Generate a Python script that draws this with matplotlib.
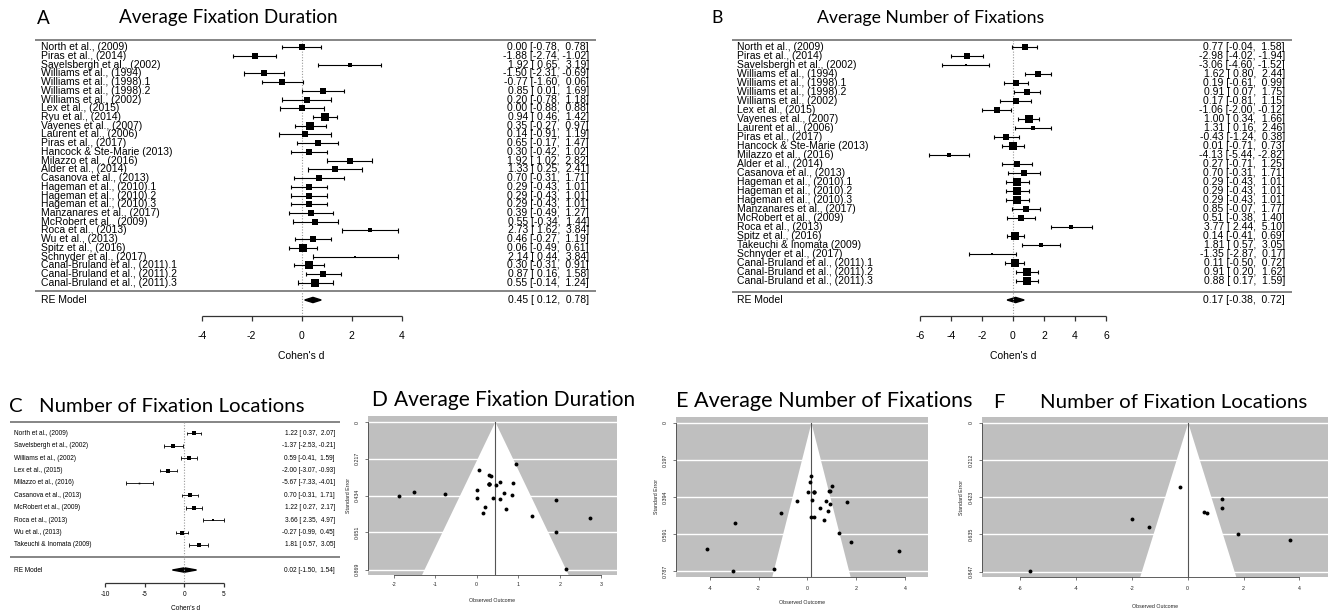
import numpy as np
import matplotlib
matplotlib.use("Agg")
import matplotlib.pyplot as plt
from matplotlib.patches import Polygon
from matplotlib.transforms import blended_transform_factory as blend

# ---------------- data ----------------
A_names = ["North et al., (2009)", "Piras et al., (2014)", "Savelsbergh et al., (2002)",
           "Williams et al., (1994)", "Williams et al., (1998).1", "Williams et al., (1998).2",
           "Williams et al., (2002)", "Lex et al., (2015)", "Ryu et al., (2014)",
           "Vayenes et al., (2007)", "Laurent et al., (2006)", "Piras et al., (2017)",
           "Hancock & Ste-Marie (2013)", "Milazzo et al., (2016)", "Alder et al., (2014)",
           "Casanova et al., (2013)", "Hageman et al., (2010).1", "Hageman et al., (2010).2",
           "Hageman et al., (2010).3", "Manzanares et al., (2017)", "McRobert et al., (2009)",
           "Roca et al., (2013)", "Wu et al., (2013)", "Spitz et al., (2016)",
           "Schnyder et al., (2017)", "Canal-Bruland et al., (2011).1",
           "Canal-Bruland et al., (2011).2", "Canal-Bruland et al., (2011).3"]
A_est = [0.00, -1.88, 1.92, -1.50, -0.77, 0.85, 0.20, 0.00, 0.94, 0.35, 0.14, 0.65, 0.30, 1.92,
         1.33, 0.70, 0.29, 0.29, 0.29, 0.39, 0.55, 2.73, 0.46, 0.06, 2.14, 0.30, 0.87, 0.55]
A_lb = [-0.78, -2.74, 0.65, -2.31, -1.60, 0.01, -0.78, -0.88, 0.46, -0.27, -0.91, -0.17, -0.42,
        1.02, 0.25, -0.31, -0.43, -0.43, -0.43, -0.49, -0.34, 1.62, -0.27, -0.49, 0.44, -0.31,
        0.16, -0.14]
A_ub = [0.78, -1.02, 3.19, -0.69, 0.06, 1.69, 1.18, 0.88, 1.42, 0.97, 1.19, 1.47, 1.02, 2.82,
        2.41, 1.71, 1.01, 1.01, 1.01, 1.27, 1.44, 3.84, 1.19, 0.61, 3.84, 0.91, 1.58, 1.24]
A_re = [0.45, 0.12, 0.78]

B_names = ["North et al., (2009)", "Piras et al., (2014)", "Savelsbergh et al., (2002)",
           "Williams et al., (1994)", "Williams et al., (1998).1", "Williams et al., (1998).2",
           "Williams et al., (2002)", "Lex et al., (2015)", "Vayenes et al., (2007)",
           "Laurent et al., (2006)", "Piras et al., (2017)", "Hancock & Ste-Marie (2013)",
           "Milazzo et al., (2016)", "Alder et al., (2014)", "Casanova et al., (2013)",
           "Hageman et al., (2010).1", "Hageman et al., (2010).2", "Hageman et al., (2010).3",
           "Manzanares et al., (2017)", "McRobert et al., (2009)", "Roca et al., (2013)",
           "Spitz et al., (2016)", "Takeuchi & Inomata (2009)", "Schnyder et al., (2017)",
           "Canal-Bruland et al., (2011).1", "Canal-Bruland et al., (2011).2",
           "Canal-Bruland et al., (2011).3"]
B_est = [0.77, -2.98, -3.06, 1.62, 0.19, 0.91, 0.17, -1.06, 1.00, 1.31, -0.43, 0.01, -4.13,
         0.27, 0.70, 0.29, 0.29, 0.29, 0.85, 0.51, 3.77, 0.14, 1.81, -1.35, 0.11, 0.91, 0.88]
B_lb = [-0.04, -4.02, -4.60, 0.80, -0.61, 0.07, -0.81, -2.00, 0.34, 0.16, -1.24, -0.71, -5.44,
        -0.71, -0.31, -0.43, -0.43, -0.43, -0.07, -0.38, 2.44, -0.41, 0.57, -2.87, -0.50, 0.20,
        0.17]
B_ub = [1.58, -1.94, -1.52, 2.44, 0.99, 1.75, 1.15, -0.12, 1.66, 2.46, 0.38, 0.73, -2.82, 1.25,
        1.71, 1.01, 1.01, 1.01, 1.77, 1.40, 5.10, 0.69, 3.05, 0.17, 0.72, 1.62, 1.59]
B_re = [0.17, -0.38, 0.72]

C_names = ["North et al., (2009)", "Savelsbergh et al., (2002)", "Williams et al., (2002)",
           "Lex et al., (2015)", "Milazzo et al., (2016)", "Casanova et al., (2013)",
           "McRobert et al., (2009)", "Roca et al., (2013)", "Wu et al., (2013)",
           "Takeuchi & Inomata (2009)"]
C_est = [1.22, -1.37, 0.59, -2.00, -5.67, 0.70, 1.22, 3.66, -0.27, 1.81]
C_lb = [0.37, -2.53, -0.41, -3.07, -7.33, -0.31, 0.27, 2.35, -0.99, 0.57]
C_ub = [2.07, -0.21, 1.59, -0.93, -4.01, 1.71, 2.17, 4.97, 0.45, 3.05]
C_re = [0.02, -1.50, 1.54]

A_xticks = [-4, -2, 0, 2, 4]
B_xticks = [-6, -4, -2, 0, 2, 4, 6]
C_xticks = [-10, -5, 0, 5]
D_xticks = [-2, -1, 0, 1, 2, 3]
E_xticks = [-4, -2, 0, 2, 4]
F_xticks = [-6, -4, -2, 0, 2, 4]
D_se_labels = ["0", "0.217", "0.434", "0.651", "0.869"]
E_se_labels = ["0", "0.197", "0.394", "0.591", "0.787"]
F_se_labels = ["0", "0.212", "0.423", "0.635", "0.847"]

# ---------------- figure ----------------
W, H = 1331, 613
fig = plt.figure(figsize=(W / 100, H / 100), dpi=100)
fig.patch.set_facecolor("white")
renderer = fig.canvas.get_renderer()
FF = ["Liberation Sans", "DejaVu Sans"]
TF = ["Lato", "DejaVu Sans"]


def axes_px(x0, y0, x1, y1):
    return fig.add_axes([x0 / W, 1 - y1 / H, (x1 - x0) / W, (y1 - y0) / H])


def fy(p):
    return 1 - p / H


def fit_title(letter, lx, lha, s, x0, x1, yc):
    t = fig.text(x0 / W, fy(yc), s, fontsize=16, family=TF, ha="left", va="center")
    w = t.get_window_extent(renderer).width
    fs = 16 * (x1 - x0) / w
    t.set_fontsize(fs)
    fig.text(lx / W, fy(yc), letter, fontsize=fs, family=TF, ha=lha, va="center")


def rma_psize(est, lb, ub):
    y = np.asarray(est)
    v = ((np.asarray(ub) - np.asarray(lb)) / (2 * 1.96)) ** 2
    w = 1 / v
    yfe = np.sum(w * y) / np.sum(w)
    Q = np.sum(w * (y - yfe) ** 2)
    tau2 = max(0.0, (Q - (len(y) - 1)) / (np.sum(w) - np.sum(w ** 2) / np.sum(w)))
    wr = 1 / (v + tau2)
    p = wr / wr.sum()
    return (p - p.min()) / (p.max() - p.min()) + 0.5


def fmt(e, l, u):
    return f"{e:.2f} [{l:5.2f}, {u:5.2f}]"


def forest(names, est, lb, ub, re, x0, x1, zero, ppu, top, row0, row1, rule_bot, re_y,
           axis_y, tick_y, xlab_y, xlab_x, label_x, annot_x, xticks, fs, base_px, cap_px,
           dia_px, tick_px, lw):
    n = len(names)
    step = (row1 - row0) / (n - 1)

    def r(p):
        return (p - row0) / step

    def dx(p):
        return (p - zero) / ppu

    ax = axes_px(x0, top, x1, axis_y)
    ax.set_xlim(dx(x0), dx(x1))
    ax.set_ylim(r(axis_y), r(top))
    ax.axis("off")
    kw = dict(clip_on=False, solid_capstyle="butt")
    # rules
    ax.plot([dx(x0), dx(x1)], [r(top)] * 2, color="#858585", lw=1.4, **kw)
    ax.plot([dx(x0), dx(x1)], [r(rule_bot)] * 2, color="#858585", lw=1.4, **kw)
    # reference line
    ax.plot([0, 0], [r(top), r(axis_y)], color="#9a9a9a", lw=0.8, ls=(0, (1, 1.5)), **kw)
    ps = rma_psize(est, lb, ub)
    cap = cap_px / step
    for i in range(n):
        ax.plot([lb[i], ub[i]], [i, i], color="black", lw=lw, **kw)
        for xv in (lb[i], ub[i]):
            ax.plot([xv, xv], [i - cap, i + cap], color="black", lw=lw, **kw)
        ax.plot([est[i]], [i], marker="s", color="black", ms=ps[i] * base_px / 1.389,
                mew=0, clip_on=False)
        ax.text(dx(label_x), i, names[i], fontsize=fs, family=FF, ha="left", va="center")
        ax.text(dx(annot_x), i, fmt(est[i], lb[i], ub[i]), fontsize=fs, family=FF,
                ha="right", va="center")
    # RE model
    yr = r(re_y)
    h = dia_px / step
    ax.add_patch(Polygon([(re[1], yr), (re[0], yr - h), (re[2], yr), (re[0], yr + h)],
                         closed=True, color="black", clip_on=False))
    ax.text(dx(label_x), yr, "RE Model", fontsize=fs, family=FF, ha="left", va="center")
    ax.text(dx(annot_x), yr, fmt(*re), fontsize=fs, family=FF, ha="right", va="center")
    # x axis
    ya = r(axis_y)
    ax.plot([xticks[0], xticks[-1]], [ya, ya], color="#333333", lw=0.9, **kw)
    for t in xticks:
        ax.plot([t, t], [ya, r(axis_y + tick_px)], color="#333333", lw=0.9, **kw)
        ax.text(t, r(tick_y), f"{t}", fontsize=fs, family=FF, ha="center", va="center")
    ax.text(dx(xlab_x), r(xlab_y), "Cohen's d", fontsize=fs, family=FF, ha="center",
            va="center")
    return ax


def funnel(est, lb, ub, center, se_labels, xticks, x0, x1, zero, ppu, se0_y, semax_y,
           tick_y, xlab_y, fs):
    se = (np.asarray(ub) - np.asarray(lb)) / (2 * 1.96)
    yt = [float(s) for s in se_labels]
    smax = yt[-1]
    pxu = (semax_y - se0_y) / smax
    top = se0_y - 0.04 * smax * pxu
    bot = semax_y + 0.04 * smax * pxu
    ax = axes_px(x0, top, x1, bot)
    ax.set_xlim((x0 - zero) / ppu, (x1 - zero) / ppu)
    ylo = smax * 1.04
    ax.set_ylim(ylo, -0.04 * smax)
    ax.set_facecolor("#bfbfbf")
    for t in yt:
        ax.axhline(t, color="white", lw=1.0, zorder=1)
    ax.add_patch(Polygon([(center - 1.96 * ylo, ylo), (center, 0), (center + 1.96 * ylo, ylo)],
                         closed=True, facecolor="white", edgecolor="none", zorder=2))
    ax.plot([center, center], [0, ylo], color="#555555", lw=0.8, zorder=3)
    ax.plot(est, se, "o", color="black", ms=2.8, mew=0, zorder=4)
    for s in ("top", "right"):
        ax.spines[s].set_visible(False)
    ax.spines["left"].set_bounds(0, smax)
    ax.spines["bottom"].set_bounds(xticks[0], xticks[-1])
    for s in ("left", "bottom"):
        ax.spines[s].set_linewidth(0.6)
        ax.spines[s].set_color("#444444")
    ax.set_xticks(xticks)
    ax.set_yticks(yt)
    ax.set_xticklabels([])
    ax.set_yticklabels([])
    ax.tick_params(length=2.2, width=0.5, color="#444444")
    tb = blend(ax.transData, fig.transFigure)
    for t in xticks:
        ax.text(t, fy(tick_y), f"{t}", transform=tb, fontsize=fs, family=FF, ha="center",
                va="center", color="#222222")
    lt = blend(fig.transFigure, ax.transData)
    for t, s in zip(yt, se_labels):
        ax.text((x0 - 11) / W, t, s, transform=lt, fontsize=fs, family=FF, ha="center",
                va="center", rotation=90, color="#222222")
    ax.text((x0 - 20) / W, fy((top + bot) / 2), "Standard Error", transform=fig.transFigure,
            fontsize=fs, family=FF, ha="center", va="center", rotation=90, color="#222222")
    ax.text((x0 + x1) / 2 / W, fy(xlab_y), "Observed Outcome", transform=fig.transFigure,
            fontsize=fs, family=FF, ha="center", va="center", color="#222222")
    return ax


# ---------------- panels ----------------
forest(A_names, A_est, A_lb, A_ub, A_re, x0=35, x1=596, zero=301.7, ppu=25.0, top=40,
       row0=47.3, row1=282.7, rule_bot=291.5, re_y=300, axis_y=316, tick_y=336, xlab_y=356,
       xlab_x=301.7, label_x=41, annot_x=589, xticks=A_xticks, fs=7.5, base_px=5.4,
       cap_px=2.2, dia_px=2.6, tick_px=5, lw=0.8)
forest(B_names, B_est, B_lb, B_ub, B_re, x0=732, x1=1292, zero=1013, ppu=15.5, top=40,
       row0=47, row1=281, rule_bot=291.5, re_y=300, axis_y=316, tick_y=336, xlab_y=356,
       xlab_x=1013, label_x=737, annot_x=1285, xticks=B_xticks, fs=7.5, base_px=5.4,
       cap_px=2.2, dia_px=2.6, tick_px=5, lw=0.8)
forest(C_names, C_est, C_lb, C_ub, C_re, x0=10, x1=340, zero=184.3, ppu=7.93, top=422,
       row0=433.3, row1=545, rule_bot=556.7, re_y=570, axis_y=583.3, tick_y=595, xlab_y=608,
       xlab_x=186, label_x=13.5, annot_x=335, xticks=C_xticks, fs=4.7, base_px=3.2,
       cap_px=1.8, dia_px=2.2, tick_px=3.5, lw=0.6)

funnel(A_est, A_lb, A_ub, A_re[0], D_se_labels, D_xticks, x0=368, x1=617, zero=476.7,
       ppu=41.5, se0_y=422, semax_y=569.5, tick_y=585, xlab_y=600, fs=3.8)
funnel(B_est, B_lb, B_ub, B_re[0], E_se_labels, E_xticks, x0=676, x1=928.3, zero=807.3,
       ppu=24.4, se0_y=423, semax_y=571, tick_y=589, xlab_y=603, fs=3.8)
funnel(C_est, C_lb, C_ub, C_re[0], F_se_labels, F_xticks, x0=982, x1=1328, zero=1187.7,
       ppu=27.9, se0_y=423, semax_y=571.5, tick_y=589, xlab_y=606, fs=3.8)

# ---------------- titles ----------------
fit_title("A", 37, "left", "Average Fixation Duration", 119, 338, 18)
fit_title("B", 711, "left", "Average Number of Fixations", 817, 1045, 18)
fit_title("C", 9, "left", "Number of Fixation Locations", 39, 305, 407)
fit_title("D", 387, "right", "Average Fixation Duration", 394, 637, 400)
fit_title("E", 688, "right", "Average Number of Fixations", 694, 973, 401)
fit_title("F", 993, "left", "Number of Fixation Locations", 1040, 1307, 402)

fig.savefig("out.png", dpi=100, facecolor="white")
